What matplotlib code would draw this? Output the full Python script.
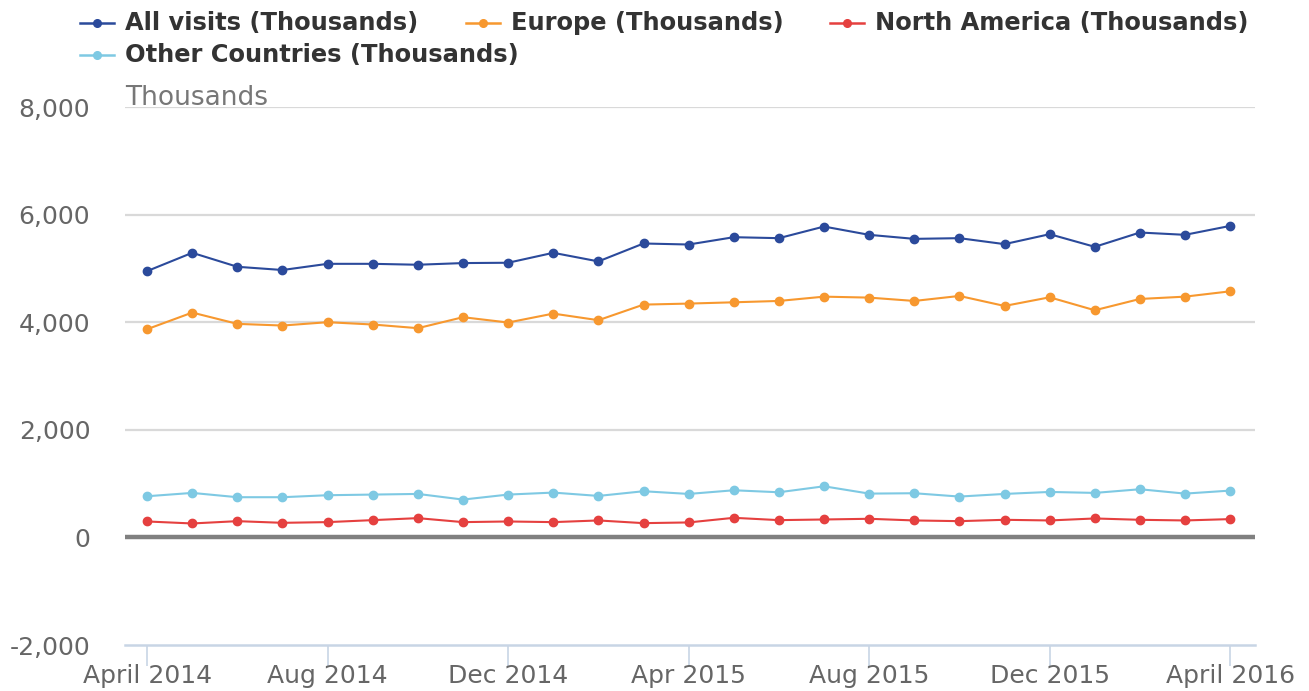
import matplotlib
matplotlib.use("Agg")
import matplotlib.pyplot as plt
from matplotlib.lines import Line2D
import numpy as np

months = ["Apr 2014", "May 2014", "Jun 2014", "Jul 2014", "Aug 2014", "Sep 2014", "Oct 2014",
          "Nov 2014", "Dec 2014", "Jan 2015", "Feb 2015", "Mar 2015", "Apr 2015", "May 2015",
          "Jun 2015", "Jul 2015", "Aug 2015", "Sep 2015", "Oct 2015", "Nov 2015", "Dec 2015",
          "Jan 2016", "Feb 2016", "Mar 2016", "Apr 2016"]

all_visits = [4950, 5290, 5030, 4970, 5085, 5085, 5068, 5099, 5105, 5290, 5130, 5463, 5444,
              5580, 5562, 5778, 5624, 5549, 5562, 5451, 5636, 5401, 5667, 5624, 5790]
europe = [3870, 4179, 3969, 3938, 4000, 3957, 3889, 4093, 3994, 4160, 4037, 4327, 4346,
          4370, 4395, 4475, 4457, 4395, 4488, 4302, 4463, 4222, 4432, 4475, 4574]
north_america = [296, 259, 302, 271, 284, 321, 358, 284, 296, 284, 315, 265, 278,
                 364, 321, 333, 346, 315, 302, 327, 315, 352, 327, 315, 340]
other = [765, 827, 747, 747, 784, 796, 808, 703, 796, 833, 771, 858, 808,
         876, 839, 950, 814, 821, 759, 808, 845, 827, 895, 814, 870]

series_names = ["All visits (Thousands)", "Europe (Thousands)",
                "North America (Thousands)", "Other Countries (Thousands)"]
series_values = [all_visits, europe, north_america, other]
colors = ["#2B4A9B", "#F7982F", "#E5403F", "#7EC9E3"]

tick_positions = [0, 4, 8, 12, 16, 20, 24]
tick_labels = ["April 2014", "Aug 2014", "Dec 2014", "Apr 2015", "Aug 2015", "Dec 2015", "April 2016"]
y_ticks = [-2000, 0, 2000, 4000, 6000, 8000]

W, H = 1309, 691
fig = plt.figure(figsize=(W / 100, H / 100), dpi=100)
ax = fig.add_axes([125 / W, 1 - 645 / H, (1255 - 125) / W, (645 - 107) / H])

x = np.arange(len(months))
for name, vals, c in zip(series_names, series_values, colors):
    ax.plot(x, vals, color=c, lw=1.5, marker="o", markersize=6, zorder=3)

ax.set_xlim(-0.49, 24.55)
ax.set_ylim(-2000, 8000)
ax.set_yticks(y_ticks)
ax.set_yticklabels([f"{v:,}" for v in y_ticks])
ax.set_xticks(tick_positions)
ax.set_xticklabels(tick_labels)

for v in [2000, 4000, 6000, 8000]:
    ax.axhline(v, color="#d9d9d9", lw=1.6, zorder=1)
ax.axhline(0, color="#808080", lw=3.2, zorder=2)

for s in ["top", "right", "left"]:
    ax.spines[s].set_visible(False)
ax.spines["bottom"].set_color("#c8d5e5")
ax.spines["bottom"].set_linewidth(1.8)

ax.tick_params(axis="y", length=0, pad=25, labelsize=18, labelcolor="#666666")
ax.tick_params(axis="x", length=15, width=1.2, color="#c8d5e5", pad=-1,
               labelsize=18, labelcolor="#666666")

ax.text(0, 0.993, "Thousands", transform=ax.transAxes, fontsize=19, color="#777777",
        ha="left", va="bottom")

# legend (flow layout)
leg_rows = [(125, 23), (511, 23), (875, 23), (125, 55)]
for (tx, ty), name, c in zip(leg_rows, series_names, colors):
    yf = 1 - ty / H
    fig.add_artist(Line2D([(tx - 45) / W, (tx - 11) / W], [yf, yf], color=c, lw=1.8,
                          transform=fig.transFigure))
    fig.add_artist(Line2D([(tx - 28) / W], [yf], color=c, marker="o", markersize=5.5,
                          transform=fig.transFigure))
    fig.text(tx / W, yf, name, fontsize=17.4, fontweight="bold", color="#333333",
             ha="left", va="center")

fig.savefig("out.png", dpi=100)
